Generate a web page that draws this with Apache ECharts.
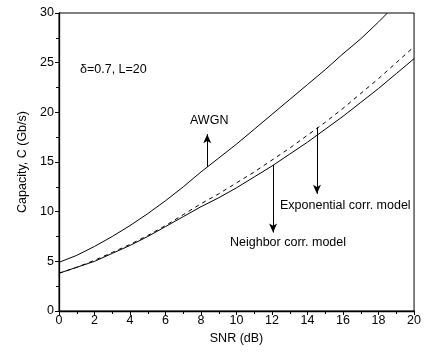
<!DOCTYPE html>
<html>
<head>
<meta charset="utf-8">
<script src="https://cdn.jsdelivr.net/npm/echarts@6/dist/echarts.min.js"></script>
<style>
  html, body { margin: 0; padding: 0; background: #fff; }
  #chart { width: 424px; height: 361px; }
</style>
</head>
<body>
<div id="chart"></div>
<script>
// SNR (dB) values
const snr = [0, 1, 2, 3, 4, 5, 6, 7, 8, 9, 10, 11, 12, 13, 14, 15, 16, 17, 18, 19, 20];

// capacity (Gb/s)
const awgnSnr = [0, 1, 2, 3, 4, 5, 6, 7, 8, 9, 10, 11, 12, 13, 14, 15, 16, 17, 18, 18.5];
const awgn = [4.9, 5.6, 6.5, 7.5, 8.6, 9.8, 11.1, 12.5, 14.0, 15.4, 16.8, 18.3, 19.8, 21.3, 22.8, 24.3, 25.9, 27.4, 29.1, 30];
const expCorr = [3.8, 4.4, 5.1, 5.9, 6.7, 7.6, 8.6, 9.7, 10.8, 11.8, 12.9, 14.0, 15.2, 16.4, 17.7, 19.0, 20.4, 21.9, 23.4, 25.0, 26.6];
const neighborCorr = [3.8, 4.4, 5.0, 5.8, 6.6, 7.5, 8.5, 9.5, 10.5, 11.4, 12.4, 13.5, 14.6, 15.8, 17.0, 18.3, 19.6, 21.0, 22.4, 23.9, 25.4];

// annotation arrows: [x, yFrom, yTo]
const awgnArrow = [8.35, 14.5, 17.8];
const expArrow = [14.53, 18.5, 11.8];
const neighborArrow = [12.06, 14.7, 7.9];

const pair = (xs, ys) => xs.map((x, i) => [x, ys[i]]);

const arrowLine = (a) => ({
  silent: true,
  symbol: ["none", "arrow"],
  symbolSize: [6, 9],
  lineStyle: { color: "#000", width: 1, type: "solid" },
  label: { show: false },
  data: [[{ coord: [a[0], a[1]] }, { coord: [a[0], a[2]] }]]
});

const chart = echarts.init(document.getElementById("chart"));

const font = "Liberation Sans, Arial, sans-serif";

chart.setOption({
  animation: false,
  backgroundColor: "#fff",
  grid: {
    left: 59, right: 8, top: 13, bottom: 50,
    show: true, borderColor: "#000", borderWidth: 1
  },
  xAxis: {
    type: "value",
    min: 0, max: 20, interval: 2,
    name: "SNR (dB)",
    nameLocation: "middle",
    nameGap: 19,
    nameTextStyle: { color: "#000", fontSize: 12.5, fontFamily: font },
    axisLine: { lineStyle: { color: "#000", width: 1.3 } },
    axisTick: { length: 4, lineStyle: { color: "#000" } },
    minorTick: { show: true, splitNumber: 2, length: 3, lineStyle: { color: "#000" } },
    axisLabel: { color: "#000", fontSize: 12.5, fontFamily: font, margin: 3 },
    splitLine: { show: false }
  },
  yAxis: {
    type: "value",
    min: 0, max: 30, interval: 5,
    name: "Capacity, C (Gb/s)",
    nameLocation: "middle",
    nameGap: 30,
    nameTextStyle: { color: "#000", fontSize: 12.5, fontFamily: font },
    axisLine: { show: true, lineStyle: { color: "#000", width: 1.3 } },
    axisTick: { show: true, length: 4, lineStyle: { color: "#000" } },
    minorTick: { show: true, splitNumber: 2, length: 3, lineStyle: { color: "#000" } },
    axisLabel: { color: "#000", fontSize: 12.5, fontFamily: font, margin: 5 },
    splitLine: { show: false }
  },
  series: [
    {
      name: "AWGN",
      type: "line",
      data: pair(awgnSnr, awgn),
      showSymbol: false,
      lineStyle: { color: "#000", width: 1 },
      markLine: arrowLine(awgnArrow)
    },
    {
      name: "Exponential corr. model",
      type: "line",
      data: pair(snr, expCorr),
      showSymbol: false,
      lineStyle: { color: "#000", width: 1, type: [4, 4] },
      markLine: arrowLine(expArrow)
    },
    {
      name: "Neighbor corr. model",
      type: "line",
      data: pair(snr, neighborCorr),
      showSymbol: false,
      lineStyle: { color: "#000", width: 1 },
      markLine: arrowLine(neighborArrow)
    }
  ],
  graphic: [
    { type: "text", left: 80, top: 63, style: { text: "δ=0.7, L=20", fill: "#000", font: "12.5px " + font } },
    { type: "text", left: 190, top: 114, style: { text: "AWGN", fill: "#000", font: "12.5px " + font } },
    { type: "text", left: 280, top: 199, style: { text: "Exponential corr. model", fill: "#000", font: "12.5px " + font } },
    { type: "text", left: 230, top: 236, style: { text: "Neighbor corr. model", fill: "#000", font: "12.5px " + font } }
  ]
});
</script>
</body>
</html>
